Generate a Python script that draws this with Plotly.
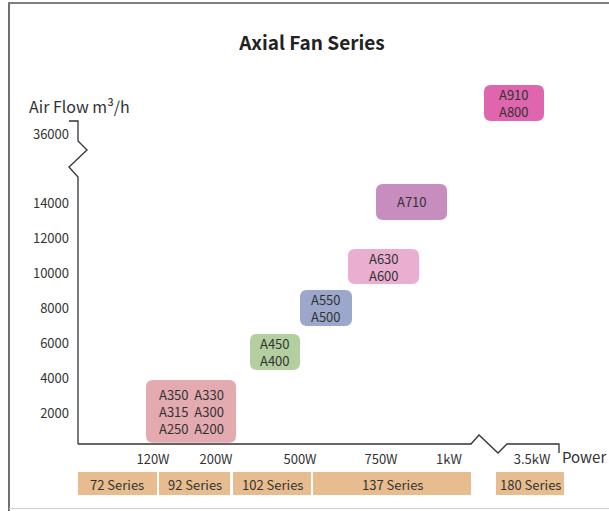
import plotly.graph_objects as go

W, H = 609, 511
FONT = "Noto Sans CJK SC"
TXT = "#333333"

# ---------------- data ----------------
power_labels = ["120W", "200W", "500W", "750W", "1kW", "3.5kW"]
power_pos = [75, 138, 222, 303, 371, 454]          # position of each power tick on the power axis

airflow_labels = ["2000", "4000", "6000", "8000", "10000", "12000", "14000", "36000"]
airflow_pos = [2000, 4000, 6000, 8000, 10000, 12000, 14000, 17900]   # 36000 sits above the axis break

# model groups: text lines, power-axis span, airflow span
group_lines = [
    ["A350\u00a0 A330", "A315\u00a0 A300", "A250\u00a0 A200"],
    ["A450", "A400"],
    ["A550", "A500"],
    ["A630", "A600"],
    ["A710"],
    ["A910", "A800"],
]
group_power = [(68, 158), (172, 222), (222, 274), (270, 341), (298, 369), (406, 466)]
group_flow = [(300, 3890), (4460, 6510), (6970, 9030), (9370, 11370), (13030, 15090), (18690, 20740)]
group_colors = ["#E3AAB0", "#B3CFA0", "#9BA8CB", "#EAAFD0", "#C68DBE", "#DE65AE"]

series_labels = ["72 Series", "92 Series", "102 Series", "137 Series", "180 Series"]
series_span = [(0, 79), (81, 152), (155, 233), (235, 393), (418, 486)]   # along power axis
series_color = "#E7BD8F"

# ---------------- layout geometry ----------------
PL, PR, PT, PB = 78, 559, 80, 444
X_RANGE = [0, PR - PL]
PXY = 0.0175                       # px per m3/h unit
Y_RANGE = [(448 - PB) / PXY, (448 - PT) / PXY]


def px(x):
    return x / W


def py(y):
    return 1 - y / H


def xpx(u):  # power-axis unit -> figure px
    return PL + (u - X_RANGE[0]) * (PR - PL) / (X_RANGE[1] - X_RANGE[0])


fig = go.Figure()
fig.add_trace(go.Scatter(x=[0], y=[Y_RANGE[0]], mode="markers", marker=dict(opacity=0),
                         showlegend=False, hoverinfo="skip"))

shapes = []
annotations = []


def rounded_path(x0, x1, y0, y1, r_px=7):
    rx = r_px * (X_RANGE[1] - X_RANGE[0]) / (PR - PL)
    ry = r_px / PXY
    return (f"M {x0+rx},{y0} L {x1-rx},{y0} Q {x1},{y0} {x1},{y0+ry} "
            f"L {x1},{y1-ry} Q {x1},{y1} {x1-rx},{y1} L {x0+rx},{y1} "
            f"Q {x0},{y1} {x0},{y1-ry} L {x0},{y0+ry} Q {x0},{y0} {x0+rx},{y0} Z")


for lines, (x0, x1), (y0, y1), col in zip(group_lines, group_power, group_flow, group_colors):
    shapes.append(dict(type="path", xref="x", yref="y", path=rounded_path(x0, x1, y0, y1),
                       fillcolor=col, line=dict(width=0), layer="below"))
    annotations.append(dict(x=(x0 + x1) / 2, y=(y0 + y1) / 2, xref="x", yref="y",
                            text="<br>".join(lines), showarrow=False, xanchor="center", yanchor="middle",
                            align="center", font=dict(family=FONT, size=13, color=TXT)))

# series bars under the power axis
for lab, (u0, u1) in zip(series_labels, series_span):
    shapes.append(dict(type="rect", xref="paper", yref="paper",
                       x0=px(xpx(u0)), x1=px(xpx(u1)), y0=py(495), y1=py(472),
                       fillcolor=series_color, line=dict(width=0)))
    annotations.append(dict(x=px((xpx(u0) + xpx(u1)) / 2), y=py(484), xref="paper", yref="paper",
                            text=lab, showarrow=False, xanchor="center", yanchor="middle",
                            font=dict(family=FONT, size=13, color=TXT)))

AX = "#333333"
# y axis with break
ypts = [(69, 121), (78, 121), (78, 141), (87, 150), (69, 167), (78, 177), (78, PB)]
shapes.append(dict(type="path", xref="paper", yref="paper",
                   path="M " + " L ".join(f"{px(a)},{py(b)}" for a, b in ypts),
                   line=dict(color=AX, width=1.3)))
# x axis with break
xpts = [(78, PB), (471, PB), (479, 435), (498, 453), (507, PB), (559, PB), (559, 453)]
shapes.append(dict(type="path", xref="paper", yref="paper",
                   path="M " + " L ".join(f"{px(a)},{py(b)}" for a, b in xpts),
                   line=dict(color=AX, width=1.3)))

# outer frame
shapes.append(dict(type="line", xref="paper", yref="paper", x0=px(9), x1=px(9), y0=py(2), y1=py(511),
                   line=dict(color="#707070", width=2)))
shapes.append(dict(type="line", xref="paper", yref="paper", x0=px(8), x1=px(609), y0=py(3), y1=py(3),
                   line=dict(color="#808080", width=2)))
shapes.append(dict(type="line", xref="paper", yref="paper", x0=px(9), x1=px(609), y0=py(508.5), y1=py(508.5),
                   line=dict(color="#D0D0D0", width=1)))

# axis titles
annotations.append(dict(x=px(27), y=py(106), xref="paper", yref="paper", text="Air Flow m³/h",
                        showarrow=False, xanchor="left", yanchor="middle",
                        font=dict(family=FONT, size=16, color=TXT)))
annotations.append(dict(x=px(608), y=py(456), xref="paper", yref="paper", text="Power",
                        showarrow=False, xanchor="right", yanchor="middle",
                        font=dict(family=FONT, size=15, color=TXT)))

fig.update_layout(
    width=W, height=H,
    margin=dict(l=0, r=0, t=0, b=0),
    paper_bgcolor="white", plot_bgcolor="rgba(0,0,0,0)",
    showlegend=False,
    title=dict(text="<b>Axial Fan Series</b>", x=px(312), y=py(43), xref="paper", yref="paper",
               xanchor="center", yanchor="middle", font=dict(family=FONT, size=19, color="#222222")),
    xaxis=dict(domain=[px(PL), px(PR)], range=X_RANGE, showgrid=False, zeroline=False, showline=False,
               tickmode="array", tickvals=power_pos, ticktext=power_labels, ticks="",
               ticklabelstandoff=6, tickfont=dict(family=FONT, size=13, color=TXT), automargin=False,
               fixedrange=True),
    yaxis=dict(domain=[py(PB), py(PT)], range=Y_RANGE, showgrid=False, zeroline=False, showline=False,
               tickmode="array", tickvals=airflow_pos, ticktext=airflow_labels, ticks="",
               ticklabelstandoff=8, tickfont=dict(family=FONT, size=13, color=TXT), automargin=False,
               fixedrange=True),
    shapes=shapes, annotations=annotations,
)

fig.write_html("out.html", config={"displayModeBar": False},
               post_script="document.body.style.margin='0';document.body.style.overflow='hidden';")
